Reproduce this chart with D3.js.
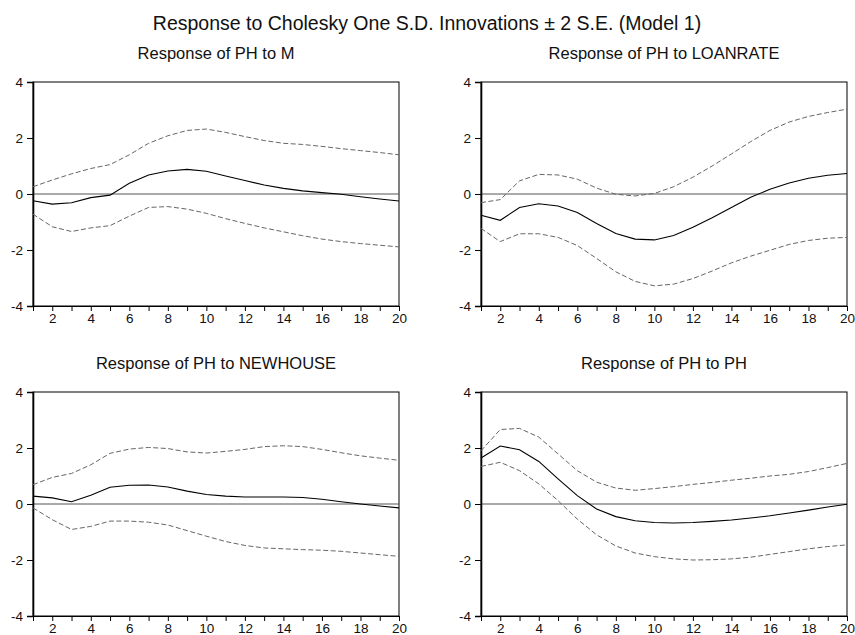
<!DOCTYPE html>
<html>
<head>
<meta charset="utf-8">
<script src="https://cdn.jsdelivr.net/npm/d3@7"></script>
<style>
  body { margin: 0; background: #fff; overflow: hidden; }
  svg { display: block; font-family: "Liberation Sans", Arial, sans-serif; }
</style>
</head>
<body>
<div id="chart"></div>
<script>
// == DATA ==
const mainTitle = 'Response to Cholesky One S.D. Innovations \u00b1 2 S.E. (Model 1)';
const panelTitles = ['Response of PH to M', 'Response of PH to LOANRATE', 'Response of PH to NEWHOUSE', 'Response of PH to PH'];
const periods = [1, 2, 3, 4, 5, 6, 7, 8, 9, 10, 11, 12, 13, 14, 15, 16, 17, 18, 19, 20];
const xTickLabels = [2, 4, 6, 8, 10, 12, 14, 16, 18, 20];
const yTicks = [-4, -2, 0, 2, 4];

const mResp  = [-0.24, -0.36, -0.31, -0.13, -0.04, 0.38, 0.68, 0.82, 0.88, 0.81, 0.64, 0.48, 0.32, 0.20, 0.11, 0.05, -0.01, -0.10, -0.18, -0.25];
const mUpper = [0.26, 0.50, 0.72, 0.91, 1.05, 1.40, 1.81, 2.08, 2.27, 2.32, 2.20, 2.05, 1.91, 1.81, 1.77, 1.70, 1.62, 1.55, 1.48, 1.40];
const mLower = [-0.72, -1.17, -1.34, -1.21, -1.13, -0.79, -0.48, -0.45, -0.54, -0.69, -0.88, -1.05, -1.21, -1.35, -1.49, -1.61, -1.70, -1.77, -1.83, -1.89];

const loanResp  = [-0.76, -0.94, -0.48, -0.35, -0.43, -0.66, -1.05, -1.41, -1.61, -1.64, -1.48, -1.19, -0.85, -0.48, -0.12, 0.17, 0.39, 0.56, 0.67, 0.73];
const loanUpper = [-0.31, -0.20, 0.47, 0.70, 0.68, 0.53, 0.21, -0.01, -0.07, 0.02, 0.26, 0.60, 1.00, 1.43, 1.87, 2.27, 2.57, 2.77, 2.91, 3.03];
const loanLower = [-1.23, -1.70, -1.42, -1.42, -1.55, -1.84, -2.30, -2.78, -3.12, -3.28, -3.22, -3.02, -2.75, -2.46, -2.22, -2.01, -1.80, -1.66, -1.58, -1.55];

const houseResp  = [0.28, 0.22, 0.08, 0.31, 0.60, 0.67, 0.68, 0.61, 0.46, 0.34, 0.28, 0.25, 0.25, 0.25, 0.23, 0.17, 0.08, 0.00, -0.07, -0.14];
const houseUpper = [0.69, 0.95, 1.09, 1.40, 1.81, 1.96, 2.02, 1.98, 1.86, 1.82, 1.88, 1.95, 2.05, 2.08, 2.05, 1.95, 1.83, 1.72, 1.64, 1.56];
const houseLower = [-0.14, -0.56, -0.91, -0.80, -0.61, -0.61, -0.65, -0.75, -0.95, -1.15, -1.34, -1.48, -1.57, -1.60, -1.63, -1.65, -1.69, -1.75, -1.81, -1.87];

const phResp  = [1.64, 2.07, 1.94, 1.52, 0.90, 0.30, -0.18, -0.45, -0.60, -0.66, -0.68, -0.66, -0.62, -0.57, -0.50, -0.42, -0.32, -0.22, -0.11, -0.01];
const phUpper = [1.90, 2.66, 2.70, 2.39, 1.79, 1.19, 0.78, 0.57, 0.49, 0.55, 0.62, 0.70, 0.77, 0.85, 0.92, 1.00, 1.06, 1.16, 1.30, 1.45];
const phLower = [1.34, 1.49, 1.19, 0.72, 0.12, -0.54, -1.10, -1.50, -1.75, -1.88, -1.96, -2.00, -1.99, -1.96, -1.90, -1.80, -1.70, -1.60, -1.52, -1.46];

// == LAYOUT ==
const W = 855, H = 635;
const panels = [
  { x0: 33,  x1: 399, y0: 82,  y1: 306, resp: mResp,     upper: mUpper,     lower: mLower },
  { x0: 481, x1: 847, y0: 82,  y1: 306, resp: loanResp,  upper: loanUpper,  lower: loanLower },
  { x0: 33,  x1: 399, y0: 392, y1: 616, resp: houseResp, upper: houseUpper, lower: houseLower },
  { x0: 481, x1: 847, y0: 392, y1: 616, resp: phResp,    upper: phUpper,    lower: phLower }
];

const svg = d3.select('#chart').append('svg')
  .attr('width', W)
  .attr('height', H);

svg.append('text')
  .attr('x', 427)
  .attr('y', 30)
  .attr('text-anchor', 'middle')
  .attr('font-size', '19.5px')
  .attr('fill', '#111')
  .text(mainTitle);

panels.forEach((p, i) => {
  const x = d3.scaleLinear().domain([1, 20]).range([p.x0, p.x1]);
  const y = d3.scaleLinear().domain([-4, 4]).range([p.y1, p.y0]);
  const g = svg.append('g');

  // title
  g.append('text')
    .attr('x', (p.x0 + p.x1) / 2)
    .attr('y', p.y0 - 23)
    .attr('text-anchor', 'middle')
    .attr('font-size', '16.5px')
    .attr('fill', '#111')
    .text(panelTitles[i]);

  // frame
  g.append('rect')
    .attr('x', p.x0)
    .attr('y', p.y0)
    .attr('width', p.x1 - p.x0)
    .attr('height', p.y1 - p.y0)
    .attr('fill', 'none')
    .attr('stroke', '#000')
    .attr('stroke-width', 1);

  // zero line
  g.append('line')
    .attr('x1', p.x0).attr('x2', p.x1)
    .attr('y1', y(0)).attr('y2', y(0))
    .attr('stroke', '#555')
    .attr('stroke-width', 1);

  // y axis (plain hyphen for negatives, like the original)
  const yAxis = d3.axisLeft(y).tickValues(yTicks).tickSize(6).tickPadding(4).tickFormat(d => String(d));
  const ya = g.append('g').attr('transform', `translate(${p.x0},0)`).call(yAxis);
  ya.select('.domain').attr('stroke-width', 1.6);

  // x axis: tick every period, labels on even ones
  const xAxis = d3.axisBottom(x).tickValues(periods).tickSize(5).tickPadding(2)
    .tickFormat(d => xTickLabels.includes(d) ? d : '');
  g.append('g').attr('transform', `translate(0,${p.y1})`).call(xAxis);

  g.selectAll('.tick text')
    .attr('font-size', '13.5px')
    .attr('font-family', '"Liberation Sans", Arial, sans-serif')
    .attr('fill', '#111');
  g.selectAll('.tick line').attr('stroke', '#000');

  const line = d3.line()
    .x((d, j) => x(periods[j]))
    .y(d => y(d));

  [p.upper, p.lower].forEach(s => {
    g.append('path')
      .datum(s)
      .attr('d', line)
      .attr('fill', 'none')
      .attr('stroke', '#666')
      .attr('stroke-width', 1)
      .attr('stroke-dasharray', '5,2.5');
  });

  g.append('path')
    .datum(p.resp)
    .attr('d', line)
    .attr('fill', 'none')
    .attr('stroke', '#000')
    .attr('stroke-width', 1.1);
});
</script>
</body>
</html>
